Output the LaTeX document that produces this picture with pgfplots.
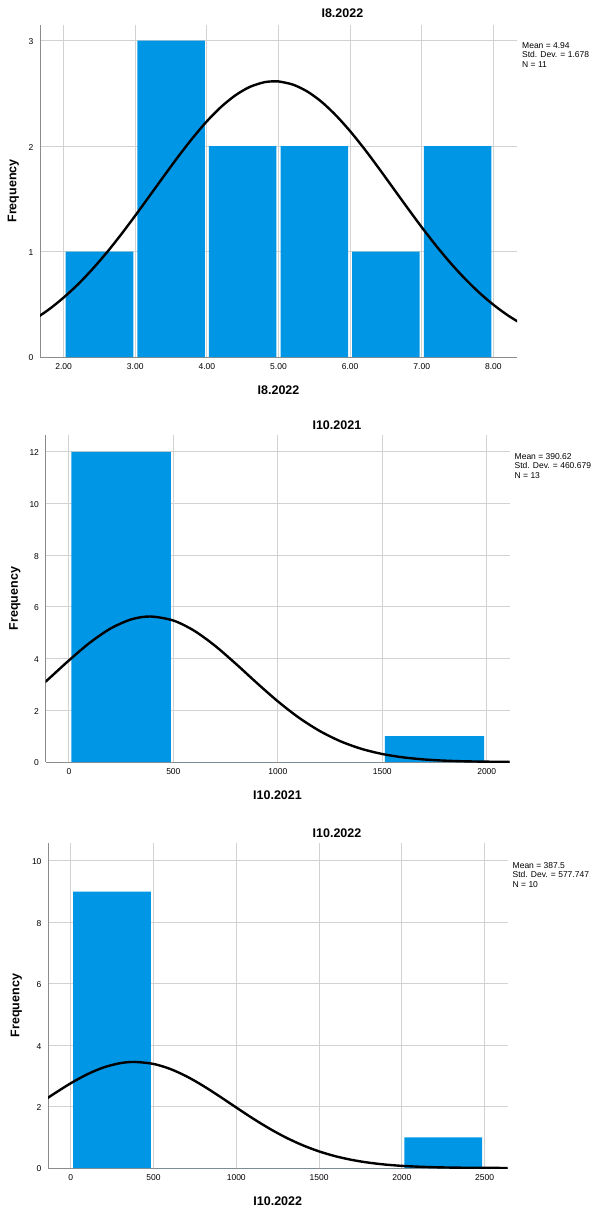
\documentclass[border=0pt]{standalone}
\usepackage{fontspec}
\setmainfont{Liberation Sans}
\usepackage{pgfplots}
\usepackage{pgfplotstable}
\pgfplotsset{compat=1.18}

\definecolor{barblue}{RGB}{0,150,230}
\definecolor{gridgray}{RGB}{210,210,210}
\definecolor{axisgray}{RGB}{140,140,140}

% histogram bins (bin centre, count)
\pgfplotstableread{
x y
2.5 1
3.5 3
4.5 2
5.5 2
6.5 1
7.5 2
}\barsA
\pgfplotstableread{
x y
250 12
750 0
1250 0
1750 1
}\barsB
\pgfplotstableread{
x y
250 9
750 0
1250 0
1750 0
2250 1
}\barsC

% normal curves
\pgfplotstableread{
x y
1.6 0.361
1.8 0.454
2.0 0.564
2.2 0.689
2.4 0.832
2.6 0.989
2.8 1.160
3.0 1.341
3.2 1.528
3.4 1.716
3.6 1.901
3.8 2.076
4.0 2.236
4.2 2.373
4.4 2.483
4.6 2.562
4.8 2.606
4.94 2.615
5.0 2.614
5.2 2.584
5.4 2.519
5.6 2.421
5.8 2.293
6.0 2.142
6.2 1.973
6.4 1.791
6.6 1.603
6.8 1.415
7.0 1.231
7.2 1.056
7.4 0.893
7.6 0.745
7.8 0.612
8.0 0.496
8.2 0.396
8.4 0.312
}\curveA
\pgfplotstableread{
x y
-200 2.474
-100 3.193
0 3.929
100 4.614
200 5.167
300 5.521
390 5.629
500 5.473
600 5.077
700 4.493
800 3.793
900 3.055
1000 2.347
1100 1.720
1200 1.203
1300 0.802
1400 0.510
1500 0.310
1600 0.180
1700 0.099
1800 0.052
1900 0.026
2000 0.013
2100 0.006
2200 0.003
}\curveB
\pgfplotstableread{
x y
-200 2.059
-100 2.419
0 2.758
100 3.051
200 3.276
300 3.414
388 3.453
500 3.388
600 3.227
700 2.983
800 2.676
900 2.330
1000 1.969
1100 1.614
1200 1.285
1300 0.992
1400 0.744
1500 0.541
1600 0.382
1700 0.262
1800 0.174
1900 0.112
2000 0.070
2100 0.043
2200 0.025
2300 0.014
2400 0.008
2500 0.004
2600 0.002
2700 0.001
}\curveC

\pgfplotsset{
  spsshist/.style={
    scale only axis,
    anchor=south west,
    axis x line*=bottom,
    axis y line*=left,
    axis line style={-, axisgray, line width=1pt},
    major tick length=0pt,
    grid=major,
    major grid style={gridgray, line width=0.9pt},
    tick label style={font=\fontsize{8.5}{10}\selectfont, text=black},
    /pgf/number format/assume math mode=true,
    /pgf/number format/1000 sep={},
    xticklabel style={yshift=-3pt},
    yticklabel style={xshift=-3pt, yshift=-1pt},
    title style={font=\fontsize{12.5}{14}\selectfont\bfseries, anchor=center},
    xlabel style={font=\fontsize{12.5}{14}\selectfont\bfseries,
      at={(axis description cs:0.5,0)}, anchor=center, yshift=-33pt},
    ylabel style={font=\fontsize{12.5}{14}\selectfont\bfseries, anchor=center},
    ylabel={Frequency},
    ymin=0,
  },
}
\tikzset{
  statsnode/.style={anchor=north west, align=left, inner sep=0pt,
    font=\fontsize{8.5}{9.5}\selectfont},
}

\begin{document}
\begin{tikzpicture}
\path[use as bounding box] (0pt,0pt) rectangle (594pt,-1213pt);

% ---- I8.2022
\begin{axis}[spsshist, name=ax1,
  at={(40pt,-357pt)}, width=477pt, height=332pt,
  xmin=1.67, xmax=8.33, ymax=3.149,
  xtick={2,3,4,5,6,7,8}, ytick={0,1,2,3},
  x tick label style={/pgf/number format/fixed,
    /pgf/number format/fixed zerofill, /pgf/number format/precision=2},
  title={I8.2022},
  title style={at={(axis description cs:0.634,1)}, yshift=5.5pt},
  xlabel={I8.2022},
  ylabel style={at={(axis description cs:-0.056,0.5)}},
]
\addplot[ybar, bar width=0.944, fill=barblue, draw=none] table {\barsA};
\addplot[black, line width=2.4pt, smooth] table {\curveA};
\end{axis}
\node[statsnode, xshift=5pt, yshift=-17pt] at (ax1.north east)
  {Mean = 4.94\\Std. Dev. = 1.678\\N = 11};

% ---- I10.2021
\begin{axis}[spsshist, name=ax2,
  at={(45.5pt,-762pt)}, width=464pt, height=327pt,
  xmin=-112, xmax=2109, ymax=12.65,
  xtick={0,500,1000,1500,2000}, ytick={0,2,4,6,8,10,12},
  title={I10.2021},
  title style={at={(axis description cs:0.628,1)}, yshift=4pt},
  xlabel={I10.2021},
  ylabel style={at={(axis description cs:-0.066,0.5)}},
]
\addplot[ybar, bar width=476, fill=barblue, draw=none] table {\barsB};
\addplot[black, line width=2.4pt, smooth] table {\curveB};
\end{axis}
\node[statsnode, xshift=5pt, yshift=-18pt] at (ax2.north east)
  {Mean = 390.62\\Std. Dev. = 460.679\\N = 13};

% ---- I10.2022
\begin{axis}[spsshist, name=ax3,
  at={(48pt,-1168pt)}, width=459.5pt, height=325pt,
  xmin=-137, xmax=2638, ymax=10.58,
  xtick={0,500,1000,1500,2000,2500}, ytick={0,2,4,6,8,10},
  title={I10.2022},
  title style={at={(axis description cs:0.629,1)}, yshift=4pt},
  xlabel={I10.2022},
  ylabel style={at={(axis description cs:-0.069,0.5)}},
]
\addplot[ybar, bar width=470, fill=barblue, draw=none] table {\barsC};
\addplot[black, line width=2.4pt, smooth] table {\curveC};
\end{axis}
\node[statsnode, xshift=5pt, yshift=-19pt] at (ax3.north east)
  {Mean = 387.5\\Std. Dev. = 577.747\\N = 10};
\end{tikzpicture}
\end{document}
